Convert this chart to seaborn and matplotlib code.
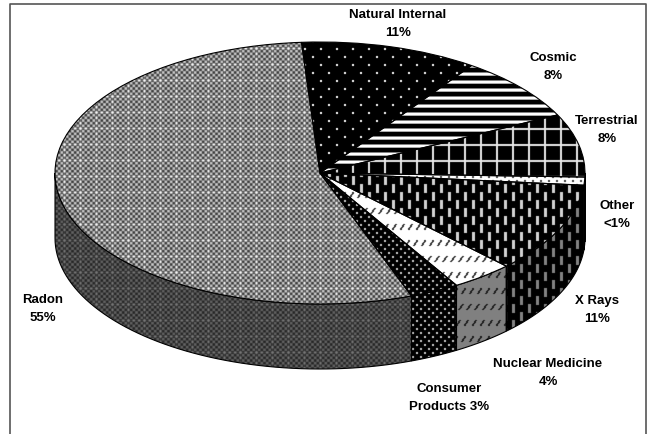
import numpy as np
import seaborn as sns
import matplotlib.pyplot as plt

sns.set_theme(style="white")
plt.rcParams['font.family'] = ['Liberation Sans', 'DejaVu Sans']

# slices clockwise from the top, shares as measured on the picture
sources = ["Natural Internal", "Cosmic", "Terrestrial", "Other", "X Rays",
           "Nuclear Medicine", "Consumer", "Radon"]
shares = [10.8, 8.0, 7.8, 1.0, 11.1, 3.8, 3.0, 54.5]
label_texts = ["Natural Internal\n11%", "Cosmic\n8%", "Terrestrial\n8%", "Other\n<1%",
               "X Rays\n11%", "Nuclear Medicine\n4%", "Consumer\nProducts 3%", "Radon\n55%"]

W, H = 650, 434
CX, CY, RX, RY, DEPTH = 320, 173, 265, 131, 65
X, Y = np.meshgrid(np.arange(W), np.arange(H))


def px(x, y):
    return (x - CX) / RX, (CY - y) / RY


def soft(img):
    # the original is a resampled bitmap, so take the hard edges off a little
    out = img * 0.6
    for axis in (0, 1):
        out = out + 0.1 * (np.roll(img, 1, axis) + np.roll(img, -1, axis))
    return out


def dots(period, size, bg, fg):
    half = period // 2
    a = (X % period < size) & (Y % period < size)
    b = ((X + half) % period < size) & ((Y + half) % period < size)
    return soft(np.where(a | b, float(fg), float(bg)))


def checks(mid, amp):
    v = np.cos(2 * np.pi * 3 * X / 16) * np.cos(2 * np.pi * 3 * Y / 16)
    img = mid + amp * np.sign(v) * np.abs(v) ** 0.5
    img[(X % 16 == 0) | (Y % 16 == 0)] += 0.6 * amp
    img[(X % 16 == 0) & (Y % 16 == 0)] = mid + 1.5 * amp
    return soft(np.clip(img, 0, 255))


def stripes():
    img = np.zeros((H, W))
    img[Y % 8 == 0] = 130
    img[(Y % 8 == 1) | (Y % 8 == 2)] = 255
    img[Y % 8 == 3] = 170
    return img


def grid(fg):
    img = np.zeros((H, W))
    img[X % 16 < 2] = fg
    img[Y % 16 < 2] = fg
    return soft(img)


def dashes(fg):
    img = np.zeros((H, W))
    a = (X % 16 < 3) & (Y % 16 < 9)
    b = ((X + 8) % 16 < 3) & ((Y + 8) % 16 < 9)
    img[a | b] = fg
    return soft(img)


def slants(bg, fg):
    img = np.full((H, W), float(bg))
    img[((X + (2 * Y) // 3) % 8 < 2) & (Y % 16 < 6)] = fg
    return soft(img)


top_tex = [dots(16, 2, 0, 255), stripes(), grid(230), dots(8, 2, 255, 60), dashes(210),
           slants(255, 50), dots(8, 2, 0, 200), checks(130, 80)]
wall_tex = [dots(16, 2, 0, 255), stripes(), grid(230), dots(8, 2, 255, 60), dashes(130),
            slants(128, 30), dots(8, 2, 0, 200), checks(68, 34)]

fig = plt.figure(figsize=(6.5, 4.34), dpi=100)
ax = fig.add_axes([0, 0, 1, 1])
wedges, _ = ax.pie(shares, startangle=94, counterclock=False, radius=1,
                   wedgeprops=dict(facecolor='none', edgecolor='black', linewidth=0.8, zorder=4))
ax.set_aspect('auto')

x0, y0 = px(0, 0)
x1, y1 = px(W, H)
extent = (x0, x1, y1, y0)
drop = DEPTH / RY

for w, tex, side in zip(wedges, top_tex, wall_tex):
    im = ax.imshow(tex, cmap='gray', vmin=0, vmax=255, extent=extent, aspect='auto',
                   interpolation='nearest', zorder=3)
    im.set_clip_path(w)
    # wall below the front part of the rim
    lo, hi = max(w.theta1, -180), min(w.theta2, 0)
    if hi > lo:
        t = np.radians(np.linspace(lo, hi, 60))
        xs = np.r_[np.cos(t), np.cos(t[::-1])]
        ys = np.r_[np.sin(t), np.sin(t[::-1]) - drop]
        wall = ax.fill(xs, ys, facecolor='none', edgecolor='black', linewidth=0.8, zorder=2)[0]
        wi = ax.imshow(side, cmap='gray', vmin=0, vmax=255, extent=extent, aspect='auto',
                       interpolation='nearest', zorder=1)
        wi.set_clip_path(wall)

ax.set_xlim(x0, x1)
ax.set_ylim(y1, y0)
ax.axis('off')

# frame, open at the bottom
fx, fy = zip(*[px(9.5, H), px(9.5, 4), px(646, 4), px(646, H)])
ax.plot(fx, fy, color='#555555', linewidth=1.2, zorder=5, clip_on=False)

label_pos = [(398, 24), (553, 67), (607, 130), (617, 215), (597, 310), (548, 373), (449, 398), (43, 309)]
for text, (lx, ly) in zip(label_texts, label_pos):
    tx, ty = px(lx, ly)
    ax.text(tx, ty, text, ha='center', va='center', fontsize=9.5, fontweight='bold',
            color='black', linespacing=1.75, zorder=6)

fig.savefig("out.png", dpi=100)
